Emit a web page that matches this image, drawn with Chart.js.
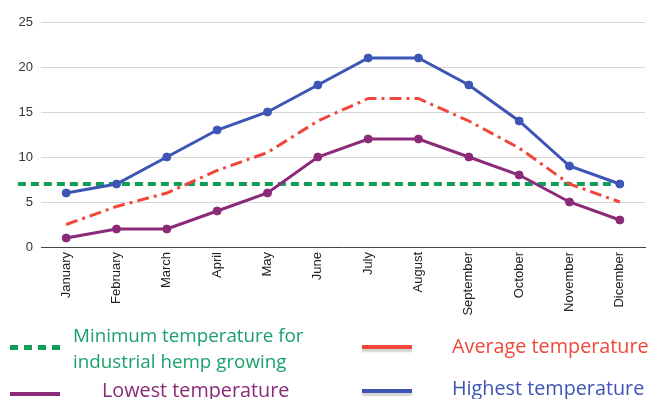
<!DOCTYPE html>
<html>
<head>
<meta charset="utf-8">
<script src="https://cdn.jsdelivr.net/npm/chart.js@4/dist/chart.umd.min.js"></script>
<style>
  html, body { margin: 0; padding: 0; background: #fff; }
  #wrap { position: relative; width: 651px; height: 399px; overflow: hidden; }
  canvas { position: absolute; left: 0; top: 0; }
  .leg { position: absolute; font-family: "Open Sans", sans-serif; font-size: 19.8px; line-height: 26px; white-space: nowrap; }
  .mk { position: absolute; height: 4px; }
</style>
</head>
<body>
<div id="wrap">
  <canvas id="c" width="651" height="399"></canvas>
  <div class="mk" style="left:10px; top:345px; width:52px; height:5px; background: repeating-linear-gradient(90deg, #0f9d58 0 8px, transparent 8px 14px);"></div>
  <div class="leg" style="left:73px; top:322px; color:#1aa06b; font-size:18.8px;">Minimum temperature for<br>industrial hemp growing</div>
  <div class="mk" style="left:10px; top:392px; width:50px; background:#8b2a79;"></div>
  <div class="leg" style="left:102px; top:377px; color:#8b2a79;">Lowest temperature</div>
  <div class="mk" style="left:362px; top:345px; width:50px; background:#f0473a; box-shadow: 0 3px 2px rgba(0,0,0,0.18);"></div>
  <div class="leg" style="left:452px; top:333px; color:#f0473a;">Average temperature</div>
  <div class="mk" style="left:362px; top:389px; width:50px; background:#3d55b5; box-shadow: 0 3px 2px rgba(0,0,0,0.18);"></div>
  <div class="leg" style="left:452px; top:375px; color:#3d55b5;">Highest temperature</div>
</div>
<script>
// Monthly temperatures (°C)
const months = ['January', 'February', 'March', 'April', 'May', 'June', 'July',
                'August', 'September', 'October', 'November', 'Dicember'];
const highestTemp = [6, 7, 10, 13, 15, 18, 21, 21, 18, 14, 9, 7];
const averageTemp = [2.5, 4.5, 6, 8.5, 10.5, 14, 16.5, 16.5, 14, 11, 7, 5];
const lowestTemp  = [1, 2, 2, 4, 6, 10, 12, 12, 10, 8, 5, 3];
// Threshold for industrial hemp growing, and the month span the guide line covers
const hempMinTemp = 7;
const hempLineSpan = [-0.96, 11.1];
const yTicks = [0, 5, 10, 15, 20, 25];

const hempLine = hempLineSpan.map(x => ({ x: x, y: hempMinTemp }));

new Chart(document.getElementById('c'), {
  type: 'line',
  data: {
    labels: months,
    datasets: [
      {
        label: 'Highest temperature',
        data: highestTemp,
        borderColor: '#3d55b5',
        backgroundColor: '#3d55b5',
        borderWidth: 3,
        pointRadius: 4,
        pointBorderWidth: 1,
        tension: 0,
        order: 1
      },
      {
        label: 'Lowest temperature',
        data: lowestTemp,
        borderColor: '#8b2a79',
        backgroundColor: '#8b2a79',
        borderWidth: 3,
        pointRadius: 4,
        pointBorderWidth: 1,
        tension: 0,
        order: 2
      },
      {
        label: 'Average temperature',
        data: averageTemp,
        borderColor: '#f0473a',
        backgroundColor: '#f0473a',
        borderWidth: 3,
        borderDash: [12, 5, 3, 5],
        pointRadius: 0,
        tension: 0,
        order: 3
      },
      {
        label: 'Minimum temperature for industrial hemp growing',
        data: hempLine,
        xAxisID: 'xg',
        borderColor: '#0f9d58',
        backgroundColor: '#0f9d58',
        borderWidth: 4,
        borderDash: [8, 5],
        pointRadius: 0,
        clip: false,
        order: 4
      }
    ]
  },
  options: {
    responsive: false,
    animation: false,
    layout: { padding: { top: 22, right: 6, bottom: 72, left: 0 } },
    plugins: { legend: { display: false }, tooltip: { enabled: false } },
    scales: {
      x: {
        type: 'category',
        offset: true,
        grid: { display: false, drawTicks: false },
        border: { display: true, color: '#444', width: 1 },
        ticks: {
          maxRotation: 90, minRotation: 90, padding: 5, autoSkip: false,
          color: '#222', font: { family: 'Liberation Sans, Arial, sans-serif', size: 13 }
        },
        afterFit: s => { s.height = 80; }
      },
      xg: {
        type: 'linear',
        display: false,
        min: -0.5,
        max: 11.5
      },
      y: {
        min: 0,
        max: 25,
        afterBuildTicks: s => { s.ticks = yTicks.map(v => ({ value: v })); },
        grid: { color: '#d6d6d6', lineWidth: 1, drawTicks: false },
        border: { display: false },
        ticks: {
          padding: 8, color: '#333',
          font: { family: 'Liberation Sans, Arial, sans-serif', size: 13 }
        },
        afterFit: s => { s.width = 41; }
      }
    }
  }
});
</script>
</body>
</html>
